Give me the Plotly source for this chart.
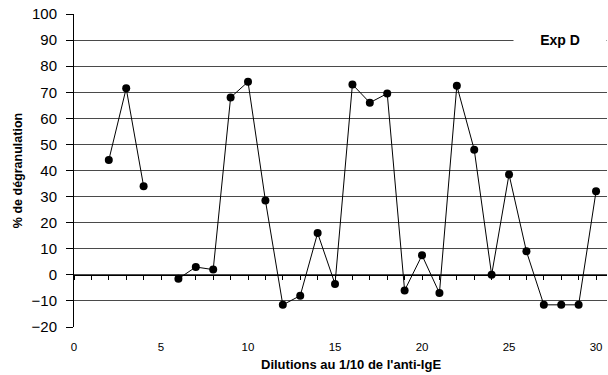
import plotly.graph_objects as go

dilutions = [2, 3, 4, 5, 6, 7, 8, 9, 10, 11, 12, 13, 14, 15, 16, 17, 18, 19, 20,
             21, 22, 23, 24, 25, 26, 27, 28, 29, 30]
degranulation = [44, 71.5, 34, None, -1.5, 3, 2, 68, 74, 28.5, -11.5, -8, 16, -3.5,
                 73, 66, 69.5, -6, 7.5, -7, 72.5, 48, 0, 38.5, 9, -11.5, -11.5, -11.5, 32]
x_ticks = [0, 5, 10, 15, 20, 25, 30]
y_ticks = [-20, -10, 0, 10, 20, 30, 40, 50, 60, 70, 80, 90, 100]

FONT = "Liberation Sans, Arial, sans-serif"
X_RANGE = [0, 30.63]
Y_RANGE = [-20, 100]

fig = go.Figure()
fig.add_trace(go.Scatter(
    x=dilutions, y=degranulation, mode="lines+markers",
    line=dict(color="black", width=1),
    marker=dict(color="black", size=8),
    connectgaps=False, showlegend=False, hoverinfo="x+y",
))
# invisible trace on overlaid axis to activate it
fig.add_trace(go.Scatter(x=[0], y=[0], xaxis="x2", mode="markers",
                         marker=dict(opacity=0), showlegend=False, hoverinfo="skip"))

plot_w = 608 - 74 - 1
plot_h = 375 - 14 - 48

fig.update_layout(
    width=608, height=375,
    margin=dict(l=74, r=1, t=14, b=48),
    plot_bgcolor="white", paper_bgcolor="white",
    font=dict(family=FONT, size=13, color="black"),
    xaxis=dict(
        range=X_RANGE, tickmode="array", tickvals=x_ticks,
        ticktext=[str(v) for v in x_ticks],
        showgrid=False, zeroline=False, showline=False, ticks="",
        ticklabelstandoff=11, tickfont=dict(size=11.5),
    ),
    xaxis2=dict(
        range=X_RANGE, overlaying="x", anchor="free",
        position=(0 - Y_RANGE[0]) / (Y_RANGE[1] - Y_RANGE[0]),
        showline=True, linecolor="black", linewidth=1,
        ticks="outside", ticklen=4, tickcolor="black", tickwidth=1,
        tick0=0, dtick=1, showticklabels=False, showgrid=False, zeroline=False,
    ),
    yaxis=dict(
        range=Y_RANGE, tickmode="array", tickvals=y_ticks,
        showgrid=True, gridcolor="#4a4a4a", gridwidth=1, zeroline=False,
        showline=True, linecolor="black", linewidth=1,
        ticks="outside", ticklen=7, tickcolor="black",
        tickfont=dict(size=15), ticklabelstandoff=6,
        title=dict(text="<b>% de dégranulation</b>", font=dict(size=12.5), standoff=6),
    ),
    annotations=[
        dict(text="<b>Exp D</b>", x=(560 - 74) / plot_w, y=90, xref="paper", yref="y",
             showarrow=False, bgcolor="white", width=92, height=16,
             font=dict(size=14), xanchor="center", yanchor="middle", borderpad=0),
        dict(text="<b>Dilutions au 1/10 de l'anti-IgE</b>",
             x=(351 - 74) / plot_w, y=(375 - 48 - 364) / plot_h,
             xref="paper", yref="paper", showarrow=False,
             font=dict(size=13), xanchor="center", yanchor="middle"),
    ],
)

fig.write_html("out.html")
